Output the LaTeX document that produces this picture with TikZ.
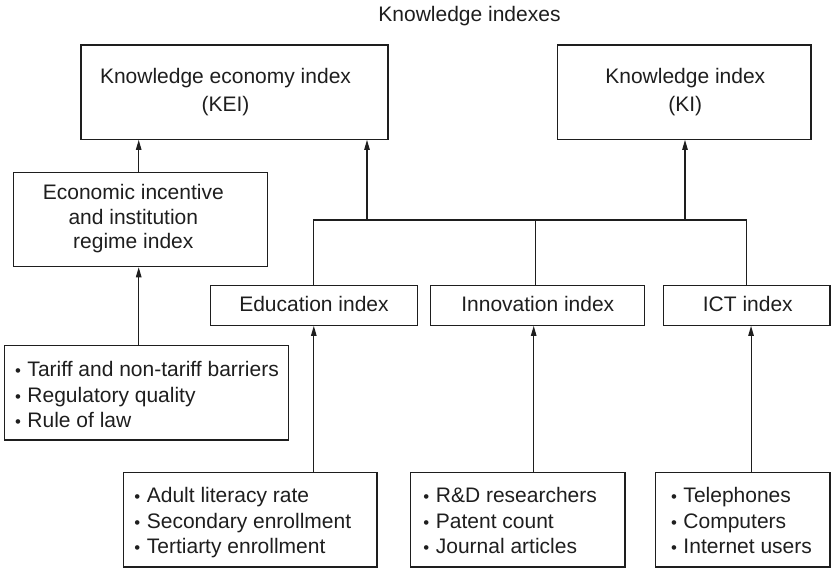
\documentclass[tikz,border=0pt]{standalone}
\usepackage{fontspec}
\usepackage{graphicx}
\setmainfont{Liberation Sans}
\usetikzlibrary{arrows.meta}
\definecolor{ink}{HTML}{1E1E1E}
\newcommand{\st}{\rule[-5pt]{0pt}{16pt}}
\newcommand{\bl}{\st\makebox[7.35pt]{\scalebox{0.8}{•}}\ }
\tikzset{
  box/.style={draw=ink, line width=1.2pt, inner sep=0pt, rectangle},
  txt/.style={text=ink, inner sep=0pt, font=\fontsize{21}{28}\selectfont},
  txtb/.style={txt, font=\fontsize{21}{24.4}\selectfont},
  lst/.style={text=ink, inner sep=0pt, anchor=west, align=left, font=\fontsize{21}{25.6}\selectfont},
  conn/.style={draw=ink, line width=1.1pt},
  arr/.style={conn, -{Triangle[length=10pt,width=5.5pt]}}
}
\begin{document}
\begin{tikzpicture}[x=1pt,y=-1pt]
\useasboundingbox (0,0) rectangle (831,569);
% title
\node[txt] (title) at (469.5,16.2) {\st Knowledge indexes};
% boxes
\node[box, minimum width=307pt, minimum height=94.3pt] (kei) at (234.5,92.15) {};
\node[box, minimum width=253.3pt, minimum height=94.3pt] (ki) at (684.35,92.15) {};
\node[box, minimum width=254pt, minimum height=94.4pt] (econ) at (140.3,219.5) {};
\node[box, minimum width=207pt, minimum height=39.6pt] (edu) at (313.8,305.5) {};
\node[box, minimum width=214.4pt, minimum height=39.6pt] (inn) at (537.5,305.5) {};
\node[box, minimum width=166.3pt, minimum height=39.6pt] (ict) at (746.85,305.5) {};
\node[box, minimum width=284pt, minimum height=94.7pt] (tar) at (146.3,392.65) {};
\node[box, minimum width=253.7pt, minimum height=94.7pt] (adu) at (250.15,519.65) {};
\node[box, minimum width=214.3pt, minimum height=94.7pt] (rd) at (517.85,519.65) {};
\node[box, minimum width=174.3pt, minimum height=94.7pt] (tel) at (742.85,519.65) {};
% texts
\node[txt, align=center] (keit) at (225.5,92) {\st Knowledge economy index\\\st(KEI)};
\node[txt, align=center] (kit) at (685.3,92) {\st Knowledge index\\\st(KI)};
\node[txtb, align=center] (econt) at (133.3,218.9) {\st Economic incentive\\\st and institution\\\st regime index};
\node[txt] (edut) at (314,306.8) {\st Education index};
\node[txt] (innt) at (537.8,306.8) {\st Innovation index};
\node[txt] (ictt) at (747.8,306.8) {\st ICT index};
\node[lst] (tart) at (14.1,396.9) {\bl Tariff and non-tariff barriers\\\bl Regulatory quality\\\bl Rule of law};
\node[lst] (adut) at (133.5,522.9) {\bl Adult literacy rate\\\bl Secondary enrollment\\\bl Tertiarty enrollment};
\node[lst] (rdt) at (422.5,522.9) {\bl R\&D researchers\\\bl Patent count\\\bl Journal articles};
\node[lst] (telt) at (670.1,522.9) {\bl Telephones\\\bl Computers\\\bl Internet users};
% bus
\coordinate (j1) at (367,220);
\coordinate (j2) at (685,220);
\draw[conn] (edu.north) -- (edu.north |- j1) -| (ict.north);
\draw[conn] ([xshift=-1.8pt]inn.north) -- ([xshift=-1.8pt]inn.north |- j1);
\draw[arr] (j1) -- (j1 |- kei.south);
\draw[arr] (j2) -- (j2 |- ki.south);
% arrows
\draw[arr] ([xshift=-1.6pt]econ.north) -- ([xshift=-1.6pt]econ.north |- kei.south);
\draw[arr] (tar.north -| econ.north) ++(-1.6,0) coordinate (t1) (t1) -- (t1 |- econ.south);
\draw[arr] (adu.north -| edu.south) -- (edu.south);
\draw[arr] ([xshift=-3.8pt]inn.south |- rd.north) -- ([xshift=-3.8pt]inn.south);
\draw[arr] ([xshift=4.2pt]ict.south |- tel.north) -- ([xshift=4.2pt]ict.south);
\end{tikzpicture}
\end{document}
